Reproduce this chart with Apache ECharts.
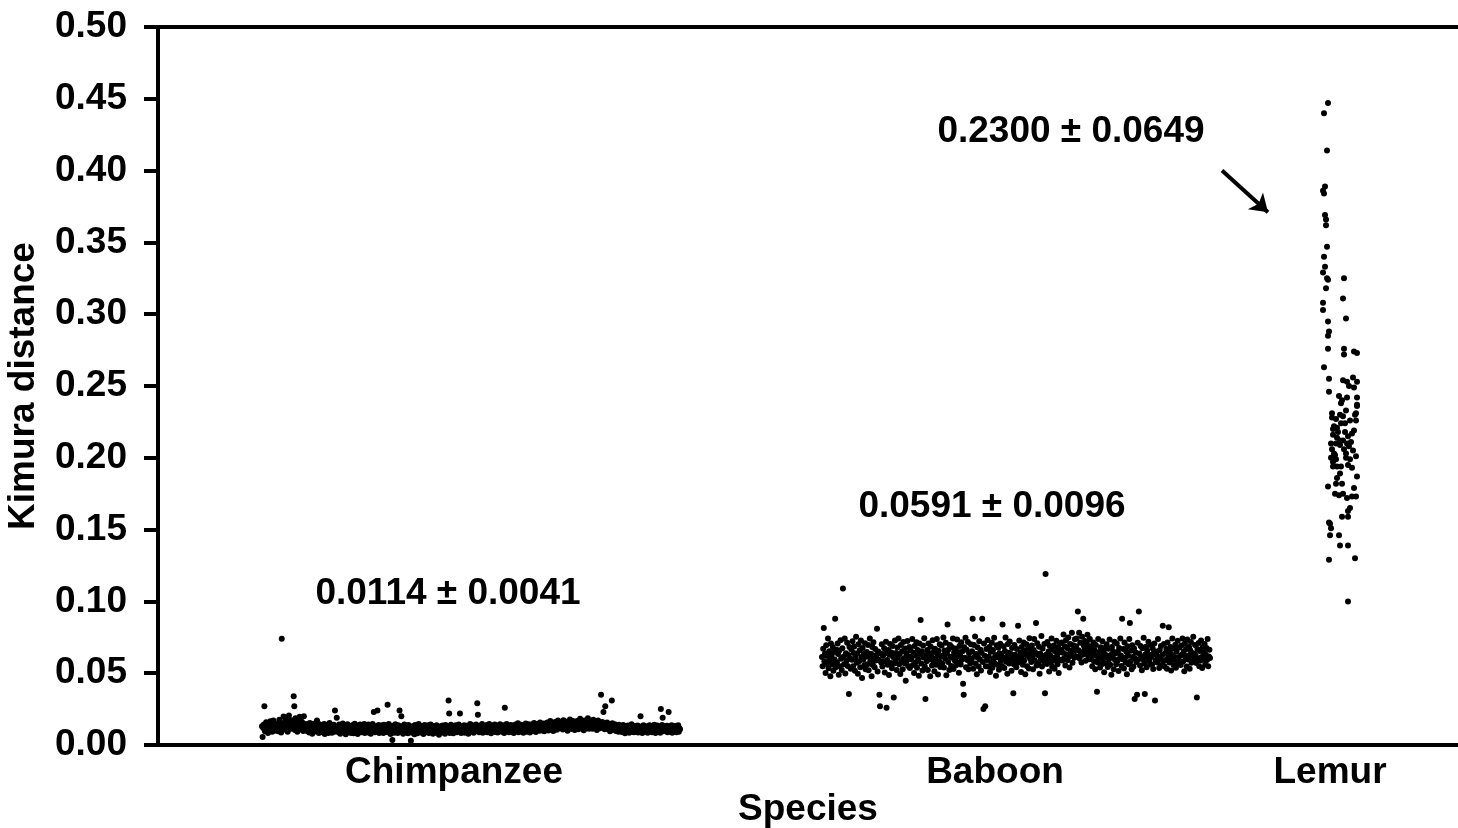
<!DOCTYPE html>
<html><head><meta charset="utf-8">
<script src="https://cdn.jsdelivr.net/npm/echarts@6/dist/echarts.min.js"></script>
<style>html,body{margin:0;padding:0;background:#fff}#c{width:1458px;height:828px}</style>
</head><body><div id="c"></div>
<script>
// Categories and their label positions on the sample-position axis
const categories = ['Chimpanzee', 'Baboon', 'Lemur'];
const categoryPos = [296, 837, 1172];
// sample position ranges of the sequential clusters
const chimpRange = [104, 522];
const baboonRange = [664, 1052];
// Kimura distances (x 1e-4), in sample order
const chimpVals = [
131,55,118,142,270,96,127,158,109,137,84,149,121,103,165,112,139,92,128,171,117,99,146,133,108,
122,147,95,138,176,113,131,87,740,152,126,199,141,108,167,119,184,134,92,158,205,127,145,113,172,
139,118,161,340,270,104,187,126,149,93,175,132,115,196,141,108,163,122,154,97,200,133,118,146,105,
128,96,141,112,87,153,119,104,136,78,125,148,93,116,139,107,131,170,99,122,84,145,111,127,95,
114,89,132,101,146,77,121,108,139,94,117,83,128,153,99,112,136,86,124,105,141,92,240,118,97,
190,103,127,88,142,111,79,134,98,122,149,91,115,106,137,74,126,101,145,87,119,132,96,110,83,
124,97,139,82,113,148,101,87,129,108,76,135,118,93,142,104,121,89,131,99,115,147,84,126,107,
92,128,110,143,86,119,135,79,124,102,147,95,230,113,88,131,106,122,240,97,139,84,117,128,101,
136,94,118,83,141,107,125,91,132,113,280,88,146,102,119,77,128,99,35,134,111,86,123,145,96,
109,127,84,138,98,240,116,92,200,131,105,79,124,143,88,112,135,97,121,82,139,104,117,93,30,
118,86,131,97,112,75,139,104,92,125,81,116,147,98,109,134,87,121,93,128,76,113,140,101,89,
124,96,108,137,83,119,101,142,88,115,129,79,106,133,94,121,85,138,110,97,126,72,117,103,131,
92,114,135,87,123,101,78,139,96,118,107,129,310,220,84,112,141,95,126,103,81,132,116,99,137,
106,88,125,112,143,94,220,119,83,131,102,117,97,138,86,123,109,134,91,115,79,128,104,146,98,
121,94,137,108,85,128,116,99,142,103,290,210,125,89,113,134,97,119,147,86,124,108,131,92,117,
103,139,88,121,112,146,95,127,81,116,133,99,124,108,142,91,118,105,136,87,129,113,97,144,110,
126,93,115,138,101,84,260,122,109,147,96,131,117,88,125,104,139,92,119,112,135,83,128,106,143,
98,124,111,152,89,134,118,103,141,95,127,114,86,138,121,107,149,93,129,116,101,144,112,87,133,
119,142,104,128,97,153,115,136,91,124,147,109,131,118,99,156,122,137,103,128,114,149,95,133,120,
138,112,157,124,101,146,131,168,109,139,122,152,97,135,118,161,127,144,106,133,171,115,149,128,140,
124,159,137,108,172,131,146,115,163,128,142,99,157,136,119,178,133,151,112,144,167,126,138,104,161,
147,121,168,135,109,154,139,182,117,145,128,163,138,102,171,131,149,115,158,126,187,140,113,152,134,
129,158,141,113,176,136,152,120,164,133,105,148,171,127,156,117,143,350,138,161,124,230,149,110,270,
142,118,157,126,109,148,134,96,139,121,310,152,113,131,104,145,122,98,136,115,127,93,141,108,124,
103,127,91,118,139,98,114,82,131,107,123,95,136,111,86,128,102,119,144,93,115,124,88,133,106,
121,94,112,135,87,118,103,129,200,99,126,84,115,138,97,122,108,91,131,113,86,124,102,137,95,
109,132,88,117,126,97,141,104,83,122,113,135,92,119,101,128,86,250,114,139,190,96,123,107,131,
98,117,134,89,121,230,106,128,93,114,137,85,119,102,126,96,132,111,88,123,104,138,92,116,109
];
const baboonVals = [
612,548,671,815,583,637,502,694,566,619,741,535,652,589,478,707,624,561,683,517,648,596,880,542,663,
577,706,633,489,658,548,729,601,523,674,1090,615,562,741,498,639,587,712,551,626,355,683,604,531,667,
594,722,548,641,686,517,609,753,572,638,496,701,583,659,541,728,612,467,675,593,634,556,709,528,617,
648,563,697,521,614,742,588,635,479,683,557,716,602,541,669,589,627,810,512,651,594,350,270,638,575,
701,546,622,583,674,505,637,719,260,592,558,661,487,628,703,571,645,534,689,612,330,567,728,594,641,
523,679,608,741,562,634,495,697,581,653,527,718,604,569,672,448,637,589,724,551,618,683,536,659,597,
612,738,557,643,501,689,624,576,715,538,661,597,482,706,634,870,568,652,519,693,609,744,547,320,627,
584,661,523,707,596,639,478,684,612,553,729,586,647,514,671,602,559,738,627,491,656,583,702,544,618,
693,567,624,748,539,658,601,712,486,637,840,578,666,523,697,614,551,683,607,742,529,644,588,672,556,
611,734,572,648,503,689,627,561,716,594,652,427,350,681,608,746,541,663,592,718,527,639,604,567,701,
583,652,880,531,697,614,756,568,633,492,681,609,547,723,596,664,519,642,880,578,250,706,621,270,549,
668,592,731,547,615,683,508,649,576,712,538,661,603,746,569,627,482,694,611,557,678,524,639,705,586,
623,551,840,602,687,536,655,748,579,614,497,703,642,568,721,593,634,517,676,609,360,562,697,628,584,
541,669,612,830,574,727,596,643,508,682,621,559,714,587,658,493,636,702,548,619,675,532,744,601,647,
578,693,614,527,661,738,589,642,850,553,708,626,571,684,497,637,603,759,546,672,618,583,704,360,1190,
629,564,717,598,651,512,689,623,576,741,547,664,608,693,531,652,587,726,618,563,681,502,645,709,594,
661,713,588,642,769,604,687,553,729,632,676,591,748,617,539,703,658,624,781,572,694,641,607,736,663,
688,742,617,930,659,781,603,712,646,574,753,628,880,691,662,724,587,647,706,768,621,683,598,739,654,
612,687,548,643,714,583,659,527,696,621,370,574,738,602,648,539,681,617,563,722,594,653,506,676,628,
567,702,618,543,671,596,734,558,627,489,683,612,651,527,719,594,638,562,707,583,649,516,676,603,741,
624,551,880,597,668,532,713,608,574,649,493,687,621,563,739,850,582,656,528,694,613,547,672,320,601,
643,578,350,712,596,930,637,554,689,612,521,673,598,746,567,355,631,684,542,657,603,719,586,628,564,
697,612,558,674,529,643,706,310,587,651,623,574,738,598,537,662,611,689,556,627,830,583,704,547,639,
592,668,531,714,607,820,574,646,683,519,628,741,596,557,672,613,698,538,651,587,726,602,564,679,621,
557,693,628,742,581,649,514,706,613,668,547,735,596,624,682,531,659,718,572,641,603,754,588,636,697,
623,571,330,668,602,711,548,654,589,727,613,536,682,597,644,703,561,629,676,592,738,548,617,664,605
];
// Lemur: [sample position (jittered), Kimura distance]
const lemurPts = [
[1170,0.447],[1166,0.440],[1169,0.414],[1167,0.389],[1165,0.386],[1166,0.384],[1167,0.369],[1168,0.366],[1168,0.362],[1169,0.347],
[1166,0.340],[1167,0.333],[1165,0.329],[1169,0.325],[1170,0.324],[1168,0.318],[1186,0.325],[1165,0.308],[1165,0.303],[1185,0.311],
[1188,0.297],[1170,0.295],[1171,0.288],[1170,0.285],[1170,0.276],[1186,0.276],[1186,0.272],[1196,0.274],[1199,0.273],[1166,0.263],
[1171,0.255],[1185,0.254],[1189,0.253],[1195,0.256],[1199,0.253],[1191,0.250],[1196,0.249],[1171,0.246],[1181,0.243],[1184,0.240],
[1189,0.242],[1199,0.242],[1183,0.238],[1199,0.237],[1188,0.233],[1174,0.231],[1182,0.230],[1198,0.231],[1199,0.236],[1197,0.230],
[1174,0.228],[1178,0.227],[1198,0.226],[1183,0.224],[1187,0.224],[1175,0.220],[1179,0.221],[1194,0.217],[1196,0.219],[1175,0.216],
[1179,0.214],[1182,0.212],[1185,0.212],[1190,0.215],[1173,0.210],[1178,0.210],[1182,0.209],[1189,0.210],[1191,0.208],[1188,0.203],
[1176,0.203],[1177,0.202],[1173,0.200],[1175,0.197],[1188,0.200],[1192,0.199],[1198,0.201],[1190,0.195],[1194,0.193],[1175,0.194],
[1179,0.194],[1183,0.194],[1182,0.189],[1199,0.187],[1179,0.186],[1178,0.182],[1184,0.182],[1170,0.180],[1196,0.179],[1177,0.175],
[1181,0.174],[1185,0.175],[1189,0.172],[1194,0.173],[1198,0.173],[1192,0.165],[1190,0.163],[1184,0.159],[1190,0.159],[1171,0.155],
[1172,0.154],[1173,0.151],[1172,0.146],[1181,0.146],[1182,0.139],[1190,0.139],[1197,0.130],[1171,0.129],[1190,0.100],
[1176,0.222],[1186,0.206],[1180,0.218],[1193,0.211],[1174,0.206],[1187,0.218],[1195,0.205],[1178,0.199],[1185,0.229],[1192,0.226]
];
const annotations = ['0.0114 \u00b1 0.0041', '0.0591 \u00b1 0.0096', '0.2300 \u00b1 0.0649'];
// arrow endpoints (data space)
const arrowFrom = [1064, 0.400];
const arrowTo = [1110, 0.371];

function spread(vals, range) {
  const n = vals.length;
  return vals.map((v, i) => [range[0] + (range[1] - range[0]) * i / (n - 1), v / 10000]);
}

const FONT = '"Liberation Sans", Arial, Helvetica, sans-serif';
const FS = 37;
const txt = { fontFamily: FONT, fontSize: FS, fontWeight: 'bold', color: '#000' };
const dot = { type: 'scatter', symbol: 'circle', symbolSize: 6, itemStyle: { color: '#000', opacity: 1 }, silent: true };

const chart = echarts.init(document.getElementById('c'), null, { renderer: 'canvas' });
chart.setOption({
  animation: false,
  backgroundColor: '#fff',
  textStyle: { fontFamily: FONT },
  grid: { left: 158, right: 0, top: 27, bottom: 83, containLabel: false, outerBoundsMode: 'none' },
  xAxis: [{
    type: 'value', min: 0, max: 1300, position: 'bottom',
    axisLine: { show: true, onZero: false, lineStyle: { color: '#000', width: 4 } },
    axisTick: { show: false }, splitLine: { show: false },
    axisLabel: Object.assign({
      customValues: categoryPos, margin: 9,
      formatter: v => categories[categoryPos.indexOf(Math.round(v))] || ''
    }, txt),
    name: 'Species', nameLocation: 'middle', nameGap: 46, nameMoveOverlap: false, nameTextStyle: txt
  }, {
    type: 'value', min: 0, max: 1300, position: 'top',
    axisLine: { show: true, onZero: false, lineStyle: { color: '#000', width: 4 } },
    axisTick: { show: false }, axisLabel: { show: false }, splitLine: { show: false }
  }],
  yAxis: {
    type: 'value', min: 0, max: 0.5, interval: 0.05,
    axisLine: { show: true, lineStyle: { color: '#000', width: 4 } },
    axisTick: { show: true, length: 14, lineStyle: { color: '#000', width: 4 } },
    splitLine: { show: false },
    axisLabel: Object.assign({ margin: 31, formatter: v => v.toFixed(2) }, txt),
    name: 'Kimura distance', nameLocation: 'middle', nameGap: 116, nameRotate: 90, nameMoveOverlap: false, nameTextStyle: txt
  },
  series: [
    Object.assign({ name: categories[0], data: spread(chimpVals, chimpRange) }, dot),
    Object.assign({ name: categories[1], data: spread(baboonVals, baboonRange) }, dot),
    Object.assign({
      name: categories[2], data: lemurPts,
      markLine: {
        silent: true, symbol: ['none', 'arrow'], symbolSize: 17, animation: false,
        lineStyle: { color: '#000', width: 4, type: 'solid', opacity: 1 }, label: { show: false },
        data: [[{ coord: arrowFrom }, { coord: arrowTo }]]
      }
    }, dot)
  ],
  graphic: [
    { type: 'text', x: 448, y: 594, style: { text: annotations[0], font: 'bold ' + FS + 'px ' + FONT, fill: '#000', align: 'center', verticalAlign: 'middle' } },
    { type: 'text', x: 992, y: 507, style: { text: annotations[1], font: 'bold ' + FS + 'px ' + FONT, fill: '#000', align: 'center', verticalAlign: 'middle' } },
    { type: 'text', x: 1071, y: 132, style: { text: annotations[2], font: 'bold ' + FS + 'px ' + FONT, fill: '#000', align: 'center', verticalAlign: 'middle' } }
  ]
});
</script></body></html>
